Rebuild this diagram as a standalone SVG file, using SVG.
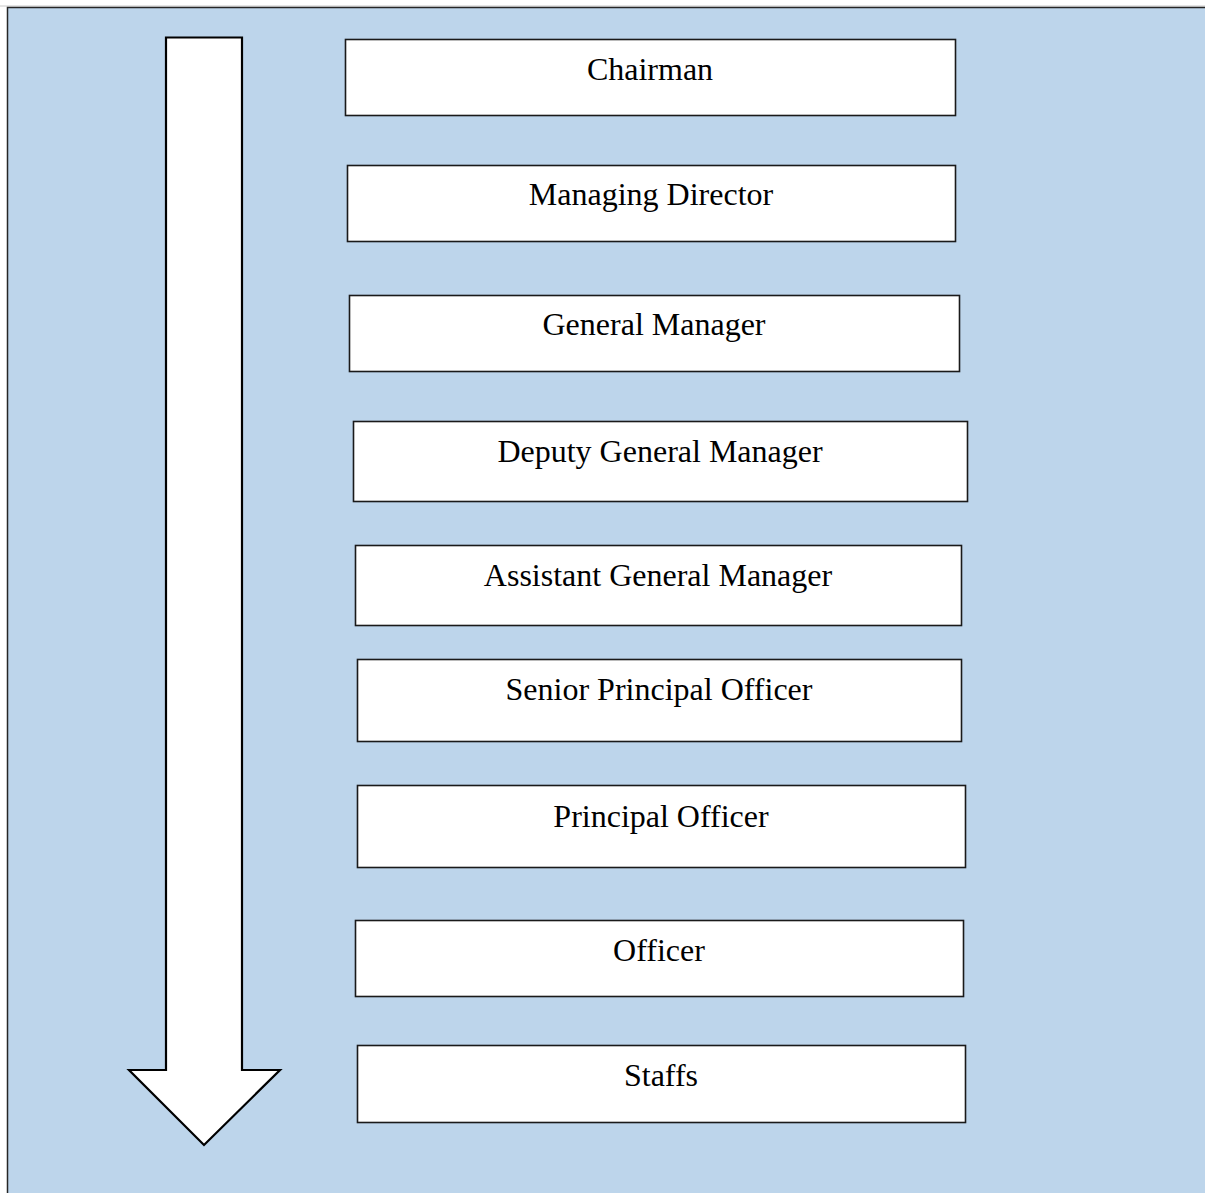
<svg xmlns="http://www.w3.org/2000/svg" width="1205" height="1193" viewBox="0 0 1205 1193">
  <style>
    .panel { fill: #BDD5EB; stroke: #262626; stroke-width: 1.5; }
    .box { fill: #FFFFFF; stroke: #1A1A1A; stroke-width: 1.6; }
    .label { font-family: "Liberation Serif", "Times New Roman", serif; font-size: 32px; fill: #000000; text-anchor: middle; }
    .arrow { fill: #FFFFFF; stroke: #000000; stroke-width: 2.2; stroke-linejoin: miter; }
  </style>
  <rect width="1205" height="1193" fill="#FFFFFF"/>
  <line x1="0" y1="6" x2="1205" y2="6" stroke="#C8C8C8" stroke-width="1"/>
  <!-- background panel -->
  <rect class="panel" x="7.5" y="7.5" width="1210" height="1200"/>

  <!-- hierarchy direction arrow -->
  <g id="connectors">
    <path class="arrow" d="M166,37.5 L242,37.5 L242,1070 L280,1070 L204,1145 L129,1070 L166,1070 Z"/>
  </g>

  <g id="chairman">
    <rect class="box" x="345.5" y="39.5" width="610" height="76"/>
    <text class="label" x="650" y="80">Chairman</text>
  </g>
  <g id="managing-director">
    <rect class="box" x="347.5" y="165.5" width="608" height="76"/>
    <text class="label" x="651" y="205">Managing Director</text>
  </g>
  <g id="general-manager">
    <rect class="box" x="349.5" y="295.5" width="610" height="76"/>
    <text class="label" x="654" y="335">General Manager</text>
  </g>
  <g id="deputy-general-manager">
    <rect class="box" x="353.5" y="421.5" width="614" height="80"/>
    <text class="label" x="660" y="462">Deputy General Manager</text>
  </g>
  <g id="assistant-general-manager">
    <rect class="box" x="355.5" y="545.5" width="606" height="80"/>
    <text class="label" x="658" y="586">Assistant General Manager</text>
  </g>
  <g id="senior-principal-officer">
    <rect class="box" x="357.5" y="659.5" width="604" height="82"/>
    <text class="label" x="659" y="700">Senior Principal Officer</text>
  </g>
  <g id="principal-officer">
    <rect class="box" x="357.5" y="785.5" width="608" height="82"/>
    <text class="label" x="661" y="827">Principal Officer</text>
  </g>
  <g id="officer">
    <rect class="box" x="355.5" y="920.5" width="608" height="76"/>
    <text class="label" x="659" y="961">Officer</text>
  </g>
  <g id="staffs">
    <rect class="box" x="357.5" y="1045.5" width="608" height="77"/>
    <text class="label" x="661" y="1086">Staffs</text>
  </g>
</svg>
